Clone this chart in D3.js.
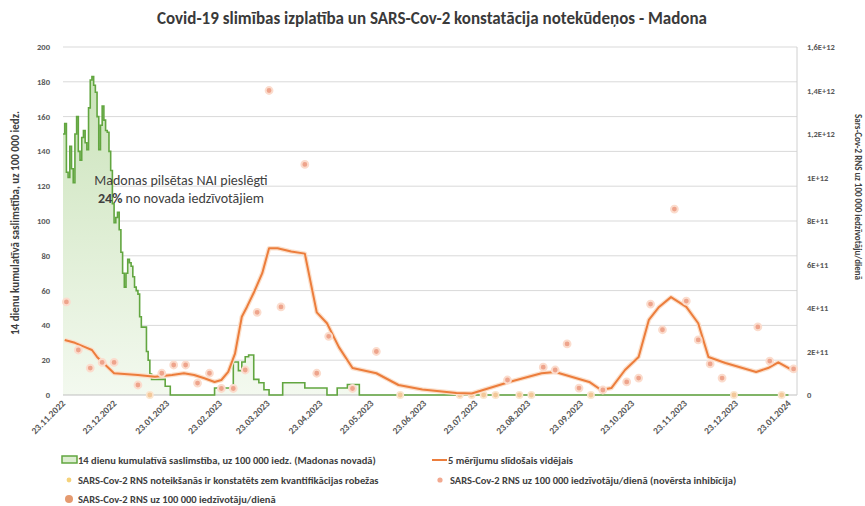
<!DOCTYPE html>
<html><head><meta charset="utf-8">
<script src="https://cdn.jsdelivr.net/npm/d3@7"></script>
<style>
html,body{margin:0;padding:0;background:#fff;}
svg text{font-family:Carlito,"Liberation Sans",Arial,sans-serif;}
</style></head>
<body>
<svg id="chart" width="865" height="506"></svg>
<script>
// ---------- DATA ----------
const xTickLabels = ["23.11.2022","23.12.2022","23.01.2023","23.02.2023","23.03.2023","23.04.2023","23.05.2023","23.06.2023","23.07.2023","23.08.2023","23.09.2023","23.10.2023","23.11.2023","23.12.2023","23.01.2024"];
const leftTicks = [0,20,40,60,80,100,120,140,160,180,200];
const rightTicks = [0,2e11,4e11,6e11,8e11,1e12,1.2e12,1.4e12,1.6e12];
const rightTickLabels = ["0","2E+11","4E+11","6E+11","8E+11","1E+12","1,2E+12","1,4E+12","1,6E+12"];

// 14-day cumulative incidence (Madona), change points (step)
const greenDates = ["23.11.2022","24.11.2022","25.11.2022","26.11.2022","27.11.2022","28.11.2022","29.11.2022","30.11.2022",
 "01.12.2022","02.12.2022","03.12.2022","04.12.2022","05.12.2022","06.12.2022","07.12.2022","08.12.2022","09.12.2022","10.12.2022",
 "11.12.2022","12.12.2022","13.12.2022","14.12.2022","15.12.2022","16.12.2022","17.12.2022","18.12.2022","19.12.2022","20.12.2022",
 "21.12.2022","22.12.2022","23.12.2022","24.12.2022","25.12.2022","26.12.2022","27.12.2022","28.12.2022","29.12.2022","30.12.2022",
 "31.12.2022","01.01.2023","02.01.2023","03.01.2023","04.01.2023","05.01.2023","06.01.2023","07.01.2023","08.01.2023","11.01.2023",
 "12.01.2023","13.01.2023","14.01.2023","22.01.2023","25.01.2023","20.02.2023","03.03.2023","06.03.2023","08.03.2023","10.03.2023",
 "12.03.2023","15.03.2023","18.03.2023","21.03.2023","24.03.2023","01.04.2023","14.04.2023","27.04.2023","03.05.2023","09.05.2023",
 "16.05.2023","23.01.2024"];
const greenValues = [150,156,128,125,143,130,122,150,
 160,140,135,148,152,145,141,165,181,183,
 178,174,160,141,155,166,158,152,151,140,
 129,110,99,102,105,95,82,70,62,70,
 78,76,74,68,62,60,58,45,39,25,
 20,12,9,5,0,4,19,14,19,22,
 23,9,7,3,0,7,4,0,4,6,
 0,0];

// 5-measurement moving average (right axis)
const avgDates = ["24.11.2022","30.11.2022","06.12.2022","10.12.2022","13.12.2022","19.12.2022","23.12.2022","06.01.2023","16.01.2023",
 "26.01.2023","02.02.2023","08.02.2023","14.02.2023","20.02.2023","24.02.2023","28.02.2023","04.03.2023","08.03.2023","11.03.2023",
 "15.03.2023","20.03.2023","24.03.2023","29.03.2023","06.04.2023","14.04.2023","21.04.2023","27.04.2023","04.05.2023","12.05.2023",
 "26.05.2023","08.06.2023","22.06.2023","12.07.2023","21.07.2023","12.08.2023","31.08.2023","08.09.2023","28.09.2023","05.10.2023",
 "11.10.2023","19.10.2023","27.10.2023","02.11.2023","08.11.2023","15.11.2023","24.11.2023","01.12.2023","07.12.2023","17.12.2023",
 "04.01.2024","11.01.2024","17.01.2024","25.01.2024"];
const avgValues = [2.53e11,2.4e11,2.2e11,2.07e11,1.75e11,1.3e11,1.0e11,0.92e11,0.84e11,
 0.92e11,1.0e11,0.92e11,0.77e11,0.6e11,0.69e11,1.06e11,1.9e11,3.6e11,4.05e11,
 4.7e11,5.6e11,6.75e11,6.75e11,6.6e11,6.5e11,3.8e11,3.3e11,2.2e11,1.24e11,
 1.0e11,0.46e11,0.25e11,0.09e11,0.07e11,0.6e11,1.0e11,1.06e11,0.6e11,0.23e11,
 0.32e11,1.15e11,1.75e11,3.45e11,4.05e11,4.5e11,4.05e11,3.3e11,1.75e11,1.47e11,
 1.06e11,1.24e11,1.5e11,1.15e11];

// weekly RNA measurements (right axis); 0 = below quantification limit
const rnaDates = ["25.11.2022","02.12.2022","09.12.2022","16.12.2022","23.12.2022","06.01.2023","13.01.2023","20.01.2023","27.01.2023",
 "03.02.2023","10.02.2023","17.02.2023","24.02.2023","03.03.2023","10.03.2023","17.03.2023","24.03.2023","31.03.2023","14.04.2023",
 "21.04.2023","28.04.2023","12.05.2023","26.05.2023","09.06.2023","14.07.2023","21.07.2023","28.07.2023","04.08.2023","11.08.2023",
 "18.08.2023","25.08.2023","01.09.2023","08.09.2023","15.09.2023","22.09.2023","29.09.2023","06.10.2023","20.10.2023","27.10.2023",
 "03.11.2023","10.11.2023","17.11.2023","24.11.2023","01.12.2023","08.12.2023","15.12.2023","22.12.2023","05.01.2024","12.01.2024",
 "19.01.2024","26.01.2024"];
const rnaValues = [4.28e11,2.07e11,1.24e11,1.5e11,1.5e11,0.46e11,0,1.0e11,1.38e11,
 1.38e11,0.55e11,1.0e11,0.3e11,0.3e11,1.15e11,3.8e11,14.0e11,4.05e11,10.6e11,
 1.0e11,2.7e11,0.3e11,2.0e11,0,0,0,0,0,0.69e11,
 0,0,1.28e11,1.15e11,2.35e11,0.32e11,0,0.23e11,0.6e11,0.78e11,
 4.18e11,3.0e11,8.55e11,4.32e11,2.53e11,1.43e11,0.78e11,0,3.13e11,1.56e11,
 0,1.2e11];

const legendItems = [
 {label:"14 dienu kumulatīvā saslimstība, uz 100 000 iedz. (Madonas novadā)", type:"area"},
 {label:"5 mērījumu slīdošais vidējais", type:"line"},
 {label:"SARS-Cov-2 RNS noteikšanās ir konstatēts zem kvantifikācijas robežas", type:"dotSmallYellow"},
 {label:"SARS-Cov-2 RNS uz 100 000 iedzīvotāju/dienā (novērsta inhibīcija)", type:"dotSalmon"},
 {label:"SARS-Cov-2 RNS uz 100 000 iedzīvotāju/dienā", type:"dotOrange"}
];

// ---------- CHART ----------
const parse = d3.timeParse("%d.%m.%Y");
const svg = d3.select("#chart");
const M = {left:63, right:797, top:47, bottom:395};

const x = d3.scaleTime().domain([parse("23.11.2022"), parse("28.01.2024")]).range([M.left, M.right]);
const yL = d3.scaleLinear().domain([0,200]).range([M.bottom, M.top]);
const yR = d3.scaleLinear().domain([0,1.6e12]).range([M.bottom, M.top]);

const green = greenDates.map((d,i)=>({date:parse(d), v:greenValues[i]}));
const avg = avgDates.map((d,i)=>({date:parse(d), v:avgValues[i]}));
const rna = rnaDates.map((d,i)=>({date:parse(d), v:rnaValues[i]}));

// title
svg.append("text").attr("x",432).attr("y",24).attr("text-anchor","middle")
 .attr("font-size",17).attr("font-weight","bold").attr("fill","#3a3a3a")
 .text("Covid-19 slimības izplatība un SARS-Cov-2 konstatācija notekūdeņos - Madona");

// gridlines
svg.append("g").selectAll("line").data(leftTicks.filter(t=>t>0)).join("line")
 .attr("x1",M.left).attr("x2",M.right).attr("y1",d=>yL(d)).attr("y2",d=>yL(d))
 .attr("stroke","#d9d9d9").attr("stroke-width",1);

// gradient for green area
const defs = svg.append("defs");
const grad = defs.append("linearGradient").attr("id","gfill").attr("x1",0).attr("x2",0)
 .attr("gradientUnits","userSpaceOnUse").attr("y1",yL(190)).attr("y2",yL(0));
grad.append("stop").attr("offset","0%").attr("stop-color","#c9e2b8");
grad.append("stop").attr("offset","100%").attr("stop-color","#f3f9ef");

const area = d3.area().x(d=>x(d.date)).y0(yL(0)).y1(d=>yL(d.v)).curve(d3.curveStepAfter);
svg.append("path").datum(green).attr("d",area).attr("fill","url(#gfill)");

// axes lines
svg.append("line").attr("x1",M.left).attr("x2",M.right).attr("y1",M.bottom).attr("y2",M.bottom)
 .attr("stroke","#bfbfbf").attr("stroke-width",1);
svg.append("line").attr("x1",M.right).attr("x2",M.right).attr("y1",M.top).attr("y2",M.bottom)
 .attr("stroke","#d0d0d0").attr("stroke-width",1);

// green line
const gline = d3.line().x(d=>x(d.date)).y(d=>yL(d.v)).curve(d3.curveStepAfter);
svg.append("path").datum(green).attr("d",gline).attr("fill","none")
 .attr("stroke","#62a640").attr("stroke-width",1.6);

// zero dots (below quantification limit)
svg.append("g").selectAll("circle").data(rna.filter(d=>d.v===0)).join("circle")
 .attr("cx",d=>x(d.date)).attr("cy",d=>yR(d.v)).attr("r",3.2)
 .attr("fill","#f3c89a").attr("stroke","#fbe6cf").attr("stroke-width",1.5);

// moving average line
const oline = d3.line().x(d=>x(d.date)).y(d=>yR(d.v)).curve(d3.curveLinear);
svg.append("path").datum(avg).attr("d",oline).attr("fill","none")
 .attr("stroke","#fbe0cc").attr("stroke-width",4.5).attr("stroke-linejoin","round");
svg.append("path").datum(avg).attr("d",oline).attr("fill","none")
 .attr("stroke","#ec7d3c").attr("stroke-width",2).attr("stroke-linejoin","round");

// RNA dots
svg.append("g").selectAll("circle").data(rna.filter(d=>d.v>0)).join("circle")
 .attr("cx",d=>x(d.date)).attr("cy",d=>yR(d.v)).attr("r",3.4)
 .attr("fill","#eea48c").attr("stroke","#fbdccd").attr("stroke-width",2);

// left axis ticks
svg.append("g").selectAll("text").data(leftTicks).join("text")
 .attr("x",50).attr("y",d=>yL(d)+3).attr("text-anchor","end")
 .attr("font-size",8.5).attr("font-weight","bold").attr("fill","#595959").text(d=>d);

// right axis ticks
svg.append("g").selectAll("text").data(rightTicks).join("text")
 .attr("x",807).attr("y",d=>yR(d)+3).attr("text-anchor","start")
 .attr("font-size",8.5).attr("font-weight","bold").attr("fill","#595959").text((d,i)=>rightTickLabels[i]);

// x tick labels
svg.append("g").selectAll("text").data(xTickLabels).join("text")
 .attr("transform",d=>`translate(${x(parse(d))+3},${M.bottom+9}) rotate(-45)`)
 .attr("text-anchor","end").attr("font-size",9.5).attr("font-weight","bold").attr("fill","#595959").text(d=>d);

// axis titles
svg.append("text").attr("transform",`translate(19,${223}) rotate(-90)`).attr("text-anchor","middle")
 .attr("font-size",11).attr("font-weight","bold").attr("fill","#404040")
 .text("14 dienu kumulatīvā saslimstība, uz 100 000 iedz.");
svg.append("text").attr("transform",`translate(855,${197}) rotate(90)`).attr("text-anchor","middle")
 .attr("font-size",9).attr("font-weight","bold").attr("fill","#404040")
 .text("Sars-Cov-2 RNS uz 100 000 iedzīvotāju/dienā");

// annotation
const ann = svg.append("text").attr("text-anchor","middle").attr("font-size",14).attr("fill","#404040");
ann.append("tspan").attr("x",181).attr("y",185).text("Madonas pilsētas NAI pieslēgti");
const t2 = ann.append("tspan").attr("x",181).attr("y",203);
t2.append("tspan").attr("font-weight","bold").text("24%");
t2.append("tspan").text(" no novada iedzīvotājiem");

// legend
const legPos = [[62,460],[432,460],[62,480],[432,480],[62,499]];
const lg = svg.append("g").attr("font-size",10.5).attr("font-weight","bold").attr("fill","#404040");
legendItems.forEach((it,i)=>{
  const [lx,ly] = legPos[i];
  const g = lg.append("g").attr("transform",`translate(${lx},${ly})`);
  if(it.type==="area"){
    g.append("rect").attr("x",0).attr("y",-4).attr("width",15).attr("height",7)
     .attr("fill","#dcedd0").attr("stroke","#62a640").attr("stroke-width",1.5);
  } else if(it.type==="line"){
    g.append("line").attr("x1",0).attr("x2",15).attr("y1",0).attr("y2",0).attr("stroke","#ec7d3c").attr("stroke-width",2);
  } else if(it.type==="dotSmallYellow"){
    g.append("circle").attr("cx",7).attr("cy",0).attr("r",2.4).attr("fill","#f5d27a");
  } else if(it.type==="dotSalmon"){
    g.append("circle").attr("cx",8).attr("cy",0).attr("r",2.6).attr("fill","#f2a990");
  } else {
    g.append("circle").attr("cx",7).attr("cy",0).attr("r",4).attr("fill","#e59a6f");
  }
  g.append("text").attr("x",it.type==="dotSalmon"?18:16).attr("y",3.5).text(it.label);
});
</script>
</body></html>
